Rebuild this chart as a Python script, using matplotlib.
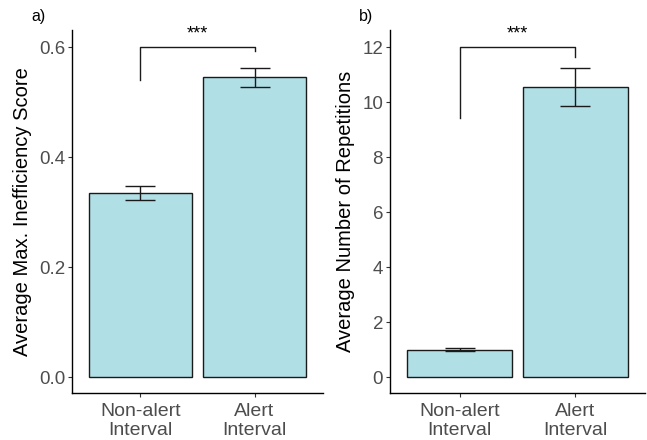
import matplotlib
matplotlib.use('Agg')
import matplotlib.pyplot as plt

plt.rcParams['font.family'] = ['Liberation Sans', 'DejaVu Sans']

groups = ['Non-alert\nInterval', 'Alert\nInterval']

# panel a
ineff_mean = [0.335, 0.545]
ineff_err = [0.013, 0.017]
# panel b
reps_mean = [1.0, 10.55]
reps_err = [0.05, 0.70]

# significance brackets: (left leg bottom, top, right leg bottom, star y)
br_a = [0.540, 0.600, 0.593, 0.624]
br_b = [9.42, 12.0, 11.64, 12.48]

bar_col = '#B0DFE5'

fig = plt.figure(figsize=(6.47, 4.4), dpi=100)
W, H = 647, 440
ax1 = fig.add_axes([72 / W, 1 - 393 / H, 251 / W, 363 / H])
ax2 = fig.add_axes([390 / W, 1 - 393 / H, 255 / W, 363 / H])


def draw(ax, means, errs, br, ylim, yticks, ylabel):
    x = [1, 2]
    ax.bar(x, means, width=0.9, color=bar_col, edgecolor='#1a1a1a', linewidth=1.0, zorder=2)
    ax.errorbar(x, means, yerr=errs, fmt='none', ecolor='#1a1a1a',
                elinewidth=1.0, capsize=11, capthick=1.0, zorder=3)
    ax.plot([1, 1, 2, 2], [br[0], br[1], br[1], br[2]], color='#1a1a1a', lw=1.0)
    ax.text(1.5, br[3], '***', ha='center', va='center', fontsize=13)
    ax.set_xlim(0.4, 2.6)
    ax.set_ylim(*ylim)
    ax.set_xticks(x)
    ax.set_xticklabels(groups, fontsize=14, color='#4D4D4D', linespacing=1.2)
    ax.set_yticks(yticks)
    ax.tick_params(axis='y', labelsize=13.5, length=3, pad=2)
    ax.tick_params(axis='x', length=3, pad=4)
    ax.tick_params(axis='both', labelcolor='#4D4D4D', color='#333333')
    ax.set_ylabel(ylabel, fontsize=14.5, color='black', labelpad=5)
    for s in ['top', 'right']:
        ax.spines[s].set_visible(False)
    for s in ['left', 'bottom']:
        ax.spines[s].set_color('black')
        ax.spines[s].set_linewidth(1.0)
    return ax


draw(ax1, ineff_mean, ineff_err, br_a, (-0.029, 0.631),
     [0.0, 0.2, 0.4, 0.6], 'Average Max. Inefficiency Score')
ax1.set_yticklabels(['0.0', '0.2', '0.4', '0.6'])
draw(ax2, reps_mean, reps_err, br_b, (-0.58, 12.62),
     [0, 2, 4, 6, 8, 10, 12], 'Average Number of Repetitions')

fig.text(39 / W, 1 - 17 / H, 'a)', fontsize=11.5, ha='center', va='center')
fig.text(366 / W, 1 - 17 / H, 'b)', fontsize=11.5, ha='center', va='center')

fig.savefig('out.png', dpi=100)
